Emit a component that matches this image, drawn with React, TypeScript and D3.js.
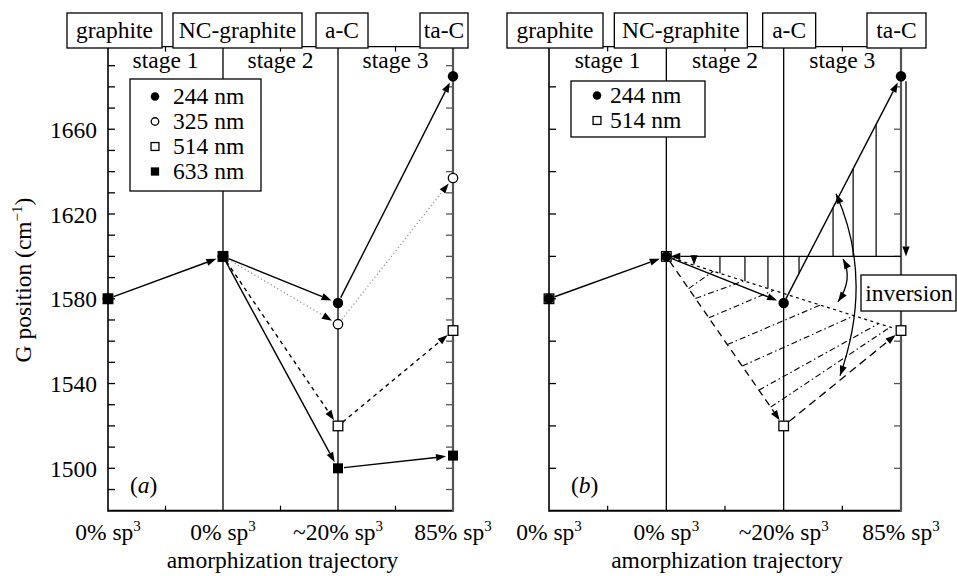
import React from "react";
import * as d3 from "d3";

// ---------- data ----------
const stageNames = ["graphite", "NC-graphite", "a-C", "ta-C"];
const sp3Labels = ["0%", "0%", "~20%", "85%"];
const stageLabels = ["stage 1", "stage 2", "stage 3"];
const yTickLabels = [1500, 1540, 1580, 1620, 1660];

const g244 = [1580, 1600, 1578, 1685];
const g325 = [1580, 1600, 1568, 1637];
const g514 = [1580, 1600, 1520, 1565];
const g633 = [1580, 1600, 1500, 1506];

const legendA = ["244 nm", "325 nm", "514 nm", "633 nm"];
const legendB = ["244 nm", "514 nm"];

// panel (b) annotations, in data units (x = stage index, y = cm-1)
const inversionLevel = 1600;
const vHatchX = [1.236, 1.457, 1.67, 1.866, 2.131, 2.421, 2.592, 2.788];
const diagHatchT = [0.19, 0.248, 0.362, 0.52, 0.647, 0.789, 0.889];
const diagHatchS = [0.2, 0.33, 0.457, 0.656, 0.8, 0.905, 0.954];
const bigArc = [[2.446, 1629.6], [2.617, 1588], [2.48, 1543.7]];
const smallArc = [[2.506, 1598.8], [2.54, 1589], [2.463, 1578.6]];

// ---------- layout ----------
const W = 957, H = 576;
const FONT = "Liberation Serif, Times New Roman, Times, DejaVu Serif, serif";
const FS = 23.5;
const yScale = d3.scaleLinear().domain([1480, 1699]).range([510.7, 46.6]);
const Y0 = yScale.range()[0], Y1 = yScale.range()[1];

type Pt = [number, number];

function Arrow({ a, b, gapStart = 0, gapEnd = 7, dash, color = "#000", head = true, width = 1.4 }:
  { a: Pt; b: Pt; gapStart?: number; gapEnd?: number; dash?: string; color?: string; head?: boolean; width?: number }) {
  const dx = b[0] - a[0], dy = b[1] - a[1];
  const L = Math.hypot(dx, dy) || 1;
  const ux = dx / L, uy = dy / L;
  const hl = 10, hw = 3.6;
  const sx = a[0] + ux * gapStart, sy = a[1] + uy * gapStart;
  const tx = b[0] - ux * gapEnd, ty = b[1] - uy * gapEnd;
  const ex = head ? tx - ux * hl : tx, ey = head ? ty - uy * hl : ty;
  return (
    <g>
      <line x1={sx} y1={sy} x2={ex} y2={ey} stroke={color} strokeWidth={width} strokeDasharray={dash} />
      {head && (
        <polygon points={`${tx},${ty} ${ex - uy * hw},${ey + ux * hw} ${ex + uy * hw},${ey - ux * hw}`} fill="#000" />
      )}
    </g>
  );
}

function Head({ tip, from }: { tip: Pt; from: Pt }) {
  const dx = tip[0] - from[0], dy = tip[1] - from[1];
  const L = Math.hypot(dx, dy) || 1;
  const ux = dx / L, uy = dy / L;
  const hl = 10, hw = 3.6;
  const ex = tip[0] - ux * hl, ey = tip[1] - uy * hl;
  return <polygon points={`${tip[0]},${tip[1]} ${ex - uy * hw},${ey + ux * hw} ${ex + uy * hw},${ey - ux * hw}`} fill="#000" />;
}

function Marker({ type, x, y, s = 1 }: { type: string; x: number; y: number; s?: number }) {
  const r = 5.2 * s, h = 4.8 * s;
  if (type === "fc") return <circle cx={x} cy={y} r={r} fill="#000" />;
  if (type === "oc") return <circle cx={x} cy={y} r={r - 0.5} fill="#fff" stroke="#000" strokeWidth={1.3} />;
  if (type === "os") return <rect x={x - h} y={y - h} width={2 * h} height={2 * h} fill="#fff" stroke="#000" strokeWidth={1.3} />;
  return <rect x={x - h - 0.2} y={y - h - 0.2} width={2 * h + 0.4} height={2 * h + 0.4} fill="#000" />;
}

function Frame({ x, boxOffsets, boxWidths, yTicksStep, showYLabels, tag }:
  { x: d3.ScaleLinear<number, number>; boxOffsets: number[]; boxWidths: number[]; yTicksStep: number; showYLabels: boolean; tag: string }) {
  const [xl, xr] = x.range();
  const ticks = d3.range(1490, 1699, 10).filter(v => yTicksStep === 10 || v % 20 === 0);
  return (
    <g style={{ fontFamily: FONT }} fontSize={FS} fill="#000">
      <line x1={xl} x2={xr} y1={Y1} y2={Y1} stroke="#000" strokeWidth={1.3} />
      <line x1={xl} x2={xr} y1={Y0} y2={Y0} stroke="#000" strokeWidth={2} />
      {[0.5, 1.5, 2.5].map(v => (
        <g key={v}>
          <line x1={x(v)} x2={x(v)} y1={Y1} y2={Y1 + 5} stroke="#000" strokeWidth={1.2} />
          <line x1={x(v)} x2={x(v)} y1={Y0} y2={Y0 - 5} stroke="#000" strokeWidth={1.2} />
        </g>
      ))}
      {[1, 2].map(v => (
        <line key={v} x1={x(v)} x2={x(v)} y1={Y1} y2={Y0} stroke="#000" strokeWidth={1.3} />
      ))}
      <line x1={xl} x2={xl} y1={Y1} y2={Y0 + 1} stroke="#000" strokeWidth={1.6} />
      <line x1={xr} x2={xr} y1={Y1} y2={Y0 + 1} stroke="#555" strokeWidth={2.2} />
      {ticks.map(v => (
        <g key={v}>
          <line x1={xl} x2={xl + 7} y1={yScale(v)} y2={yScale(v)} stroke="#000" strokeWidth={1.3} />
          <line x1={xr} x2={xr - 7} y1={yScale(v)} y2={yScale(v)} stroke="#555" strokeWidth={1.3} />
        </g>
      ))}
      {showYLabels && yTickLabels.map(v => (
        <text key={v} x={xl - 11} y={yScale(v) + 8.5} textAnchor="end">{v}</text>
      ))}
      {stageLabels.map((s, i) => (
        <text key={s} x={(x(i) + x(i + 1)) / 2} y={68} textAnchor="middle">{s}</text>
      ))}
      {stageNames.map((s, i) => {
        const cx = x(i) + boxOffsets[i];
        return (
          <g key={s}>
            <rect x={cx - boxWidths[i] / 2} y={13} width={boxWidths[i]} height={35} fill="#fff" stroke="#000" strokeWidth={1.3} />
            <text x={cx} y={38} textAnchor="middle">{s}</text>
          </g>
        );
      })}
      {sp3Labels.map((s, i) => (
        <text key={i} x={x(i)} y={540} textAnchor="middle">
          {s} sp<tspan fontSize={15} dy={-9}>3</tspan>
        </text>
      ))}
      <text x={(xl + xr) / 2 + 2} y={568} textAnchor="middle">amorphization trajectory</text>
      <text x={xl + 22} y={493}>(<tspan fontStyle="italic">{tag}</tspan>)</text>
    </g>
  );
}

function PanelA() {
  const x = d3.scaleLinear().domain([0, 3]).range([108, 453]);
  const P = (i: number, v: number): Pt => [x(i), yScale(v)];
  const series = [
    { vals: g514, dash: "4,4", color: "#000", m: "os" },
    { vals: g325, dash: "1.2,2.6", color: "#9a9a9a", m: "oc" },
    { vals: g244, dash: undefined, color: "#000", m: "fc" },
    { vals: g633, dash: undefined, color: "#000", m: "fs" },
  ];
  const legendMarks = ["fc", "oc", "os", "fs"];
  return (
    <g>
      <Frame x={x} boxOffsets={[6.5, 14.5, 4, -9]} boxWidths={[95, 129, 52, 48]} yTicksStep={10} showYLabels tag="a" />
      <Arrow a={P(0, g244[0])} b={P(1, g244[1])} gapStart={6} />
      {series.map((s, k) => (
        <g key={k}>
          <Arrow a={P(1, s.vals[1])} b={P(2, s.vals[2])} gapStart={6} dash={s.dash} color={s.color} />
          <Arrow a={P(2, s.vals[2])} b={P(3, s.vals[3])} gapStart={6} dash={s.dash} color={s.color} />
        </g>
      ))}
      {series.map((s, k) => (
        <g key={k}>
          {s.vals.map((v, i) => <Marker key={i} type={s.m} x={x(i)} y={yScale(v)} />)}
        </g>
      ))}
      <rect x={130} y={79} width={131} height={112} fill="#fff" stroke="#000" strokeWidth={1.3} />
      {legendA.map((l, i) => (
        <g key={l}>
          <Marker type={legendMarks[i]} x={155} y={104 + 25 * i - 7.5} s={0.82} />
          <text x={173} y={104 + 25 * i} style={{ fontFamily: FONT }} fontSize={FS}>{l}</text>
        </g>
      ))}
    </g>
  );
}

function PanelB() {
  const x = d3.scaleLinear().domain([0, 3]).range([549, 901]);
  const P = (i: number, v: number): Pt => [x(i), yScale(v)];
  const path244 = d3.scaleLinear().domain([0, 1, 2, 3]).range(g244);
  const direct = (xv: number) => g514[1] + ((xv - 1) / 2) * (g514[3] - g514[1]);
  const arcPath = (arc: number[][]) => {
    const s: Pt = [x(arc[0][0]), yScale(arc[0][1])];
    const m: Pt = [x(arc[1][0]), yScale(arc[1][1])];
    const e: Pt = [x(arc[2][0]), yScale(arc[2][1])];
    const c: Pt = [2 * m[0] - (s[0] + e[0]) / 2, 2 * m[1] - (s[1] + e[1]) / 2];
    return { d: `M${s[0]},${s[1]} Q${c[0]},${c[1]} ${e[0]},${e[1]}`, s, e, c };
  };
  const big = arcPath(bigArc);
  const small = arcPath(smallArc);
  return (
    <g>
      <Frame x={x} boxOffsets={[6, 14.5, 5.5, -4.5]} boxWidths={[96, 133, 53, 59]} yTicksStep={20} showYLabels={false} tag="b" />
      {vHatchX.map((xv, i) => {
        const v = path244(xv);
        const bound = v >= inversionLevel ? v : Math.max(v, direct(xv));
        const y1 = yScale(inversionLevel), y2 = yScale(bound);
        return i === 0 ? (
          <Arrow key={i} a={[x(xv), y1]} b={[x(xv), y2]} gapEnd={0} width={1.2} />
        ) : (
          <line key={i} x1={x(xv)} x2={x(xv)} y1={y1} y2={y2} stroke="#000" strokeWidth={1.2} />
        );
      })}
      {diagHatchT.map((t, i) => {
        const s = diagHatchS[i];
        const a: Pt = [x(1 + t), yScale(g514[1] + t * (g514[2] - g514[1]))];
        const b: Pt = [x(1 + 2 * s), yScale(g514[1] + s * (g514[3] - g514[1]))];
        return <line key={i} x1={a[0]} y1={a[1]} x2={b[0]} y2={b[1]} stroke="#000" strokeWidth={1.1} strokeDasharray="6,3,1.5,3" />;
      })}
      <Arrow a={P(3, inversionLevel)} b={P(1, inversionLevel)} gapEnd={4} width={1.3} />
      <Arrow a={[x(3) + 5, yScale(g244[3]) + 5]} b={[x(3) + 5, yScale(inversionLevel)]} gapEnd={0} width={1.3} />
      <Arrow a={P(1, g514[1])} b={P(3, g514[3])} gapStart={6} gapEnd={6} head={false} dash="3,3.5" width={1.2} />
      <Arrow a={P(0, g244[0])} b={P(1, g244[1])} gapStart={6} />
      <Arrow a={P(1, g514[1])} b={P(2, g514[2])} gapStart={6} dash="7,5" width={1.3} />
      <Arrow a={P(2, g514[2])} b={P(3, g514[3])} gapStart={7} dash="8,5" width={1.3} />
      <Arrow a={P(1, g244[1])} b={P(2, g244[2])} gapStart={6} />
      <Arrow a={P(2, g244[2])} b={P(3, g244[3])} gapStart={5} />
      <path d={big.d} fill="none" stroke="#000" strokeWidth={1.3} />
      <Head tip={big.s} from={big.c} />
      <Head tip={big.e} from={big.c} />
      <path d={small.d} fill="none" stroke="#000" strokeWidth={1.3} />
      <Head tip={small.s} from={small.c} />
      <Head tip={small.e} from={small.c} />
      {g514.map((v, i) => <Marker key={"s" + i} type="os" x={x(i)} y={yScale(v)} />)}
      {g244.map((v, i) => <Marker key={"c" + i} type="fc" x={x(i)} y={yScale(v)} />)}
      <rect x={861} y={275} width={95} height={36} fill="#fff" stroke="#000" strokeWidth={1.3} />
      <text x={909} y={301} textAnchor="middle" style={{ fontFamily: FONT }} fontSize={FS}>inversion</text>
      <rect x={571} y={81} width={134} height={56} fill="#fff" stroke="#000" strokeWidth={1.3} />
      {legendB.map((l, i) => (
        <g key={l}>
          <Marker type={i === 0 ? "fc" : "os"} x={597} y={103 + 25 * i - 7.5} s={0.82} />
          <text x={610} y={103 + 25 * i} style={{ fontFamily: FONT }} fontSize={FS}>{l}</text>
        </g>
      ))}
    </g>
  );
}

export default function App() {
  return (
    <svg width={W} height={H} viewBox={`0 0 ${W} ${H}`} style={{ position: "absolute", left: 0, top: 0, background: "#fff" }}>
      <rect width={W} height={H} fill="#fff" />
      <PanelA />
      <PanelB />
      <text transform="translate(31,280) rotate(-90)" textAnchor="middle" style={{ fontFamily: FONT }} fontSize={FS}>
        G position (cm<tspan fontSize={15} dy={-9}>−1</tspan><tspan dy={9}>)</tspan>
      </text>
    </svg>
  );
}
